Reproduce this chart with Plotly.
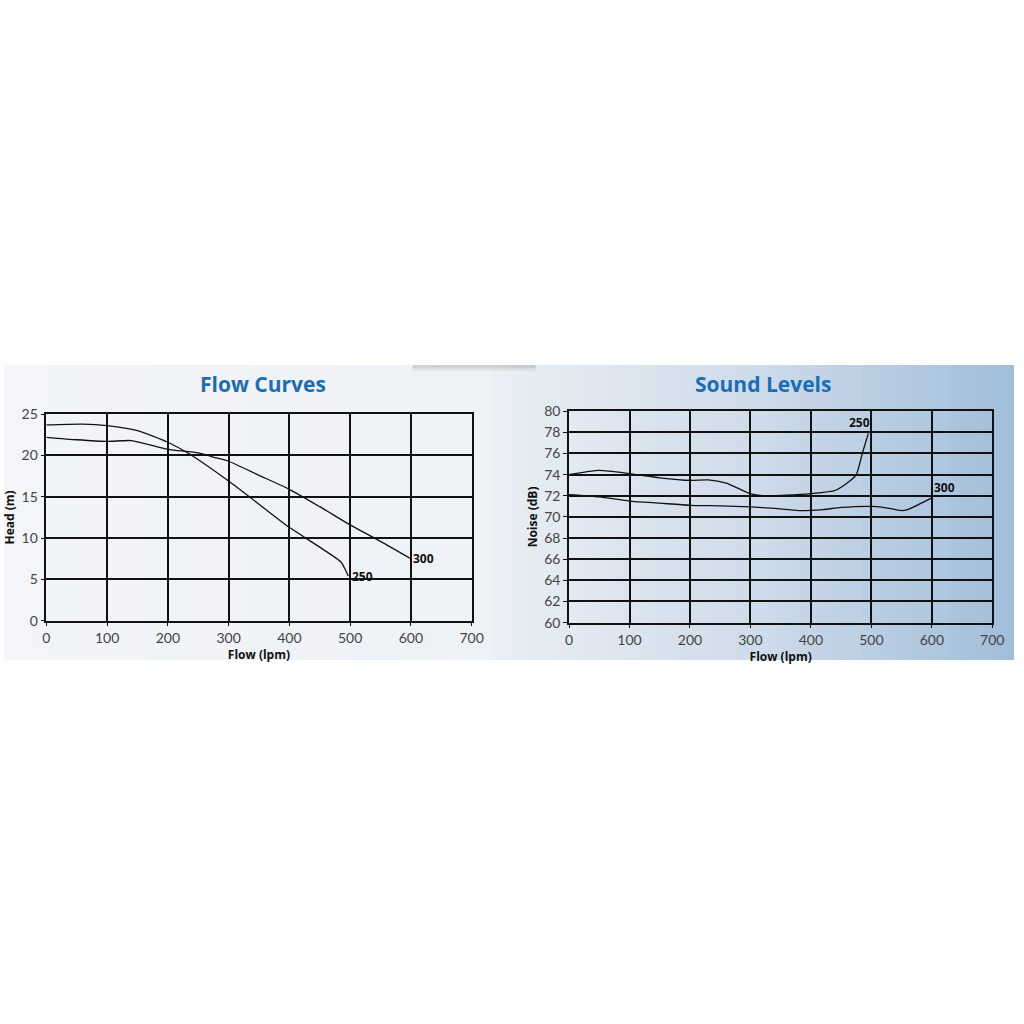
import plotly.graph_objects as go
from plotly.subplots import make_subplots

# Flow curves (head vs flow)
flow_250 = [0, 60, 100, 150, 200, 235, 300, 350, 400, 450, 485, 492, 497]
head_250 = [23.7, 23.8, 23.6, 23.0, 21.6, 20.2, 16.9, 14.1, 11.3, 8.9, 7.1, 6.2, 5.4]

flow_300 = [0, 50, 100, 140, 200, 250, 280, 300, 350, 400, 450, 500, 550, 600]
head_300 = [22.2, 21.9, 21.7, 21.8, 20.75, 20.3, 19.7, 19.3, 17.6, 15.9, 13.8, 11.6, 9.6, 7.5]

# Sound levels (noise vs flow)
snd_flow_250 = [0, 50, 100, 150, 200, 230, 260, 300, 325, 360, 400, 440, 460, 475, 485, 495]
noise_250 = [74.0, 74.4, 74.1, 73.7, 73.45, 73.5, 73.2, 72.2, 72.0, 72.05, 72.2, 72.5, 73.2, 74.0, 76.0, 77.9]

snd_flow_300 = [0, 50, 100, 150, 200, 250, 300, 340, 380, 420, 450, 500, 520, 550, 560, 600]
noise_300 = [72.1, 71.9, 71.5, 71.3, 71.1, 71.05, 70.95, 70.8, 70.6, 70.7, 70.9, 71.0, 70.9, 70.6, 70.7, 71.8]

flow_ticks = [0, 100, 200, 300, 400, 500, 600, 700]
head_ticks = [0, 5, 10, 15, 20, 25]
noise_ticks = [60, 62, 64, 66, 68, 70, 72, 74, 76, 78, 80]

W = H = 1024

fig = make_subplots(rows=1, cols=2)

line = dict(color="#111111", width=1.3, shape="spline", smoothing=0.6)
fig.add_trace(go.Scatter(x=flow_250, y=head_250, mode="lines", line=line), row=1, col=1)
fig.add_trace(go.Scatter(x=flow_300, y=head_300, mode="lines", line=line), row=1, col=1)
fig.add_trace(go.Scatter(x=snd_flow_250, y=noise_250, mode="lines", line=line), row=1, col=2)
fig.add_trace(go.Scatter(x=snd_flow_300, y=noise_300, mode="lines", line=line), row=1, col=2)

tickfont = dict(family="Lato", size=14, color="#444444")
axis_common = dict(
    showgrid=True, gridcolor="#111111", gridwidth=1.5,
    showline=True, linecolor="#111111", linewidth=1.5, mirror=True,
    zeroline=False, ticks="outside", ticklen=4, tickcolor="#111111",
    tickfont=tickfont, fixedrange=True,
)
title_font = dict(family="Open Sans", size=12, color="#111111")

fig.update_xaxes(domain=[43 / W, 475 / W], range=[0, 700], tickvals=flow_ticks,
                 title=dict(text="<b>Flow (lpm)</b>", font=title_font, standoff=2),
                 **axis_common, row=1, col=1)
fig.update_yaxes(domain=[1 - 622 / H, 1 - 412 / H], range=[0, 25], tickvals=head_ticks,
                 title=dict(text="<b>Head (m)</b>", font=title_font, standoff=4),
                 **axis_common, row=1, col=1)
fig.update_xaxes(domain=[574 / W, 1004 / W], range=[0, 700], tickvals=flow_ticks,
                 title=dict(text="<b>Flow (lpm)</b>", font=title_font, standoff=2),
                 **axis_common, row=1, col=2)
fig.update_yaxes(domain=[1 - 624 / H, 1 - 409 / H], range=[60, 80], tickvals=noise_ticks,
                 title=dict(text="<b>Noise (dB)</b>", font=title_font, standoff=4),
                 **axis_common, row=1, col=2)

# gradient band behind both charts
stops = [(0.0, (243, 245, 248)), (0.48, (238, 241, 245)), (0.52, (230, 236, 243)),
         (0.75, (206, 219, 234)), (1.0, (162, 190, 218))]


def color_at(t):
    for (t0, c0), (t1, c1) in zip(stops, stops[1:]):
        if t0 <= t <= t1:
            f = (t - t0) / (t1 - t0)
            return "rgb(%d,%d,%d)" % tuple(round(a + (b - a) * f) for a, b in zip(c0, c1))
    return "rgb(%d,%d,%d)" % stops[-1][1]


n = 128
shapes = []
for i in range(n):
    shapes.append(dict(type="rect", xref="paper", yref="paper", layer="below",
                       x0=i / n, x1=(i + 1) / n + 0.002, y0=1 - 662 / H, y1=1 - 362 / H,
                       fillcolor=color_at((i + 0.5) / n), line=dict(width=0)))
# faint smudge at the top edge of the band
for k, a in enumerate([0.10, 0.07, 0.04]):
    shapes.append(dict(type="rect", xref="paper", yref="paper", layer="below",
                       x0=415 / W, x1=540 / W, y0=1 - (365 + 2 * k) / H, y1=1 - 362 / H,
                       fillcolor="rgba(90,90,90,%.2f)" % a, line=dict(width=0)))

label_font = dict(family="Open Sans", size=12, color="#111111")
title_kw = dict(xref="paper", yref="paper", xanchor="center", yanchor="middle", showarrow=False,
                font=dict(family="Open Sans", size=21, color="#1b6db4"))
annotations = [
    dict(text="<b>Flow Curves</b>", x=263 / W, y=1 - 381 / H, **title_kw),
    dict(text="<b>Sound Levels</b>", x=771 / W, y=1 - 381 / H, **title_kw),
    dict(text="<b>250</b>", x=flow_250[-1], y=head_250[-1], xref="x", yref="y",
         xanchor="left", yanchor="middle", xshift=2, showarrow=False, font=label_font),
    dict(text="<b>300</b>", x=flow_300[-1], y=head_300[-1], xref="x", yref="y",
         xanchor="left", yanchor="middle", xshift=0, showarrow=False, font=label_font),
    dict(text="<b>250</b>", x=snd_flow_250[-1], y=noise_250[-1], xref="x2", yref="y2",
         xanchor="right", yanchor="bottom", xshift=4, showarrow=False, font=label_font),
    dict(text="<b>300</b>", x=snd_flow_300[-1], y=noise_300[-1], xref="x2", yref="y2",
         xanchor="left", yanchor="bottom", xshift=0, showarrow=False, font=label_font),
]

fig.update_layout(
    autosize=True,
    margin=dict(l=0, r=0, t=0, b=0),
    paper_bgcolor="white",
    plot_bgcolor="rgba(0,0,0,0)",
    showlegend=False,
    shapes=shapes,
    annotations=annotations,
)

# let the figure fill the 1024x1024 window exactly, no page margin or scrollbars
fig.write_html("out.html", config={"displayModeBar": False, "responsive": True},
               default_width="100vw", default_height="100vh",
               post_script="document.documentElement.style.overflow='hidden';"
                           "document.body.style.margin='0';"
                           "window.dispatchEvent(new Event('resize'));")
